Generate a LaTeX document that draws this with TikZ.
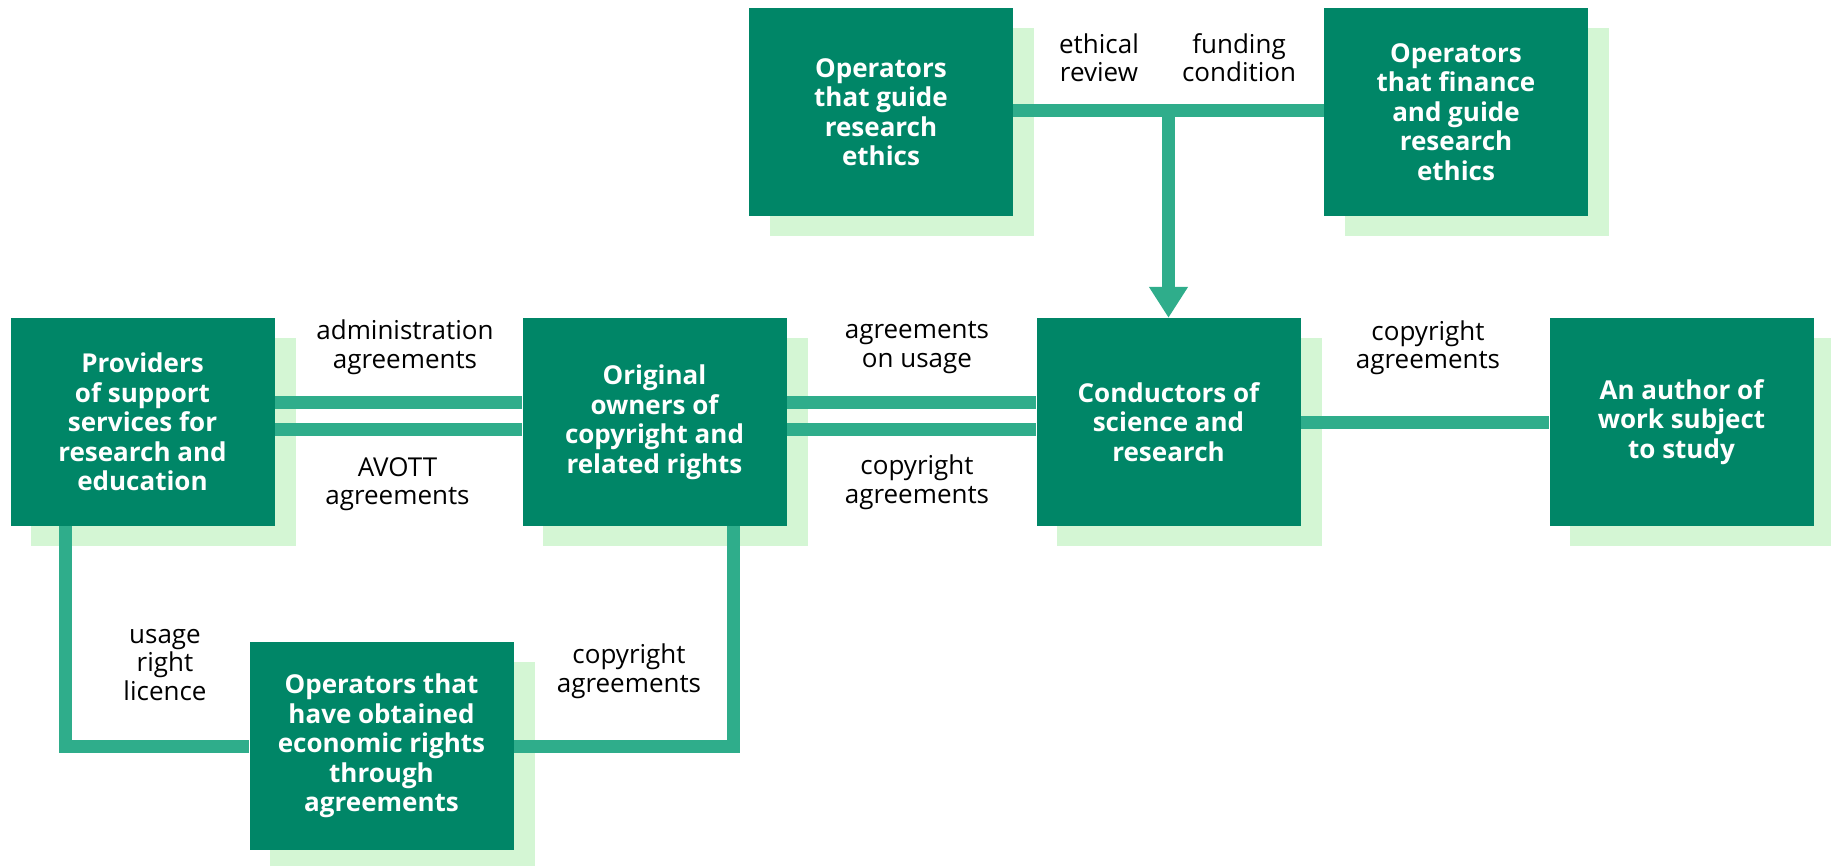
\documentclass[tikz,border=0pt]{standalone}
\usepackage{fontspec}
\setmainfont{Open Sans}
\usetikzlibrary{arrows.meta}
\definecolor{boxgreen}{RGB}{0,134,103}
\definecolor{linegreen}{RGB}{47,173,139}
\definecolor{shadowgreen}{RGB}{212,246,212}
\pgfdeclarelayer{shadowlayer}
\pgfdeclarelayer{linelayer}
\pgfsetlayers{shadowlayer,linelayer,main}
\tikzset{
  box/.style={fill=boxgreen, text=white, minimum width=264pt, minimum height=208pt,
    inner sep=0pt, align=center, font=\fontsize{26}{29.5}\selectfont\bfseries},
  lbl/.style={text=black, inner sep=0pt, align=center, font=\fontsize{26}{28.5}\selectfont},
  conn/.style={draw=linegreen, line width=13pt, line join=miter},
}
\newcommand{\boxshadow}[1]{\fill[shadowgreen] ([shift={(21pt,-20pt)}]#1.south west) rectangle ([shift={(21pt,-20pt)}]#1.north east);}
\begin{document}
\begin{tikzpicture}[x=1pt,y=-1pt]
\useasboundingbox (0,0) rectangle (1831,865);
% boxes
\node[box] (guide) at (881,112) {Operators\\that guide\\research\\ethics};
\node[box] (finance) at (1456,112) {Operators\\that finance\\and guide\\research\\ethics};
\node[box] (providers) at (142.5,422) {Providers\\of support\\services for\\research and\\education};
\node[box] (original) at (654.5,422) {Original\\owners of\\copyright and\\related rights};
\node[box] (conductors) at (1168.5,422) {Conductors of\\science and\\research};
\node[box] (author) at (1681.5,422) {An author of\\work subject\\to study};
\node[box] (econ) at (381.5,746) {Operators that\\have obtained\\economic rights\\through\\agreements};
% labels
\node[lbl] (l1) at (1099,57.5) {ethical\\review};
\node[lbl] (l2) at (1239,57.5) {funding\\condition};
\node[lbl] (l3) at (405,347) {administration\\agreements};
\node[lbl] (l4) at (397.5,484) {AVOTT\\agreements};
\node[lbl] (l5) at (917,347.5) {agreements\\on usage};
\node[lbl] (l6) at (917,482) {copyright\\agreements};
\node[lbl] (l7) at (1428,347.5) {copyright\\agreements};
\node[lbl] (l8) at (165,665) {usage\\right\\licence};
\node[lbl] (l9) at (629,671) {copyright\\agreements};
% shadows
\begin{pgfonlayer}{shadowlayer}
\boxshadow{guide}\boxshadow{finance}\boxshadow{providers}\boxshadow{original}
\boxshadow{conductors}\boxshadow{author}\boxshadow{econ}
\end{pgfonlayer}
% connectors
\begin{pgfonlayer}{linelayer}
\draw[conn] ([yshift=2pt]guide.east) -- ([yshift=2pt]finance.west);
\coordinate (j) at ([yshift=2pt]conductors.north |- guide.east);
\draw[conn, -{Triangle[width=37pt,length=31pt]}] (j) -- (conductors.north);
\draw[conn] ([yshift=19.5pt]providers.east) -- ([yshift=19.5pt]original.west);
\draw[conn] ([yshift=-7.5pt]providers.east) -- ([yshift=-7.5pt]original.west);
\draw[conn] ([yshift=19.5pt]original.east) -- ([yshift=19.5pt]conductors.west);
\draw[conn] ([yshift=-7.5pt]original.east) -- ([yshift=-7.5pt]conductors.west);
\draw[conn] (conductors.east) -- (author.west);
\draw[conn] ([xshift=55.5pt]providers.south west) |- (econ.west);
\draw[conn] ([xshift=-53.5pt]original.south east) |- (econ.east);
\end{pgfonlayer}
\end{tikzpicture}
\end{document}
